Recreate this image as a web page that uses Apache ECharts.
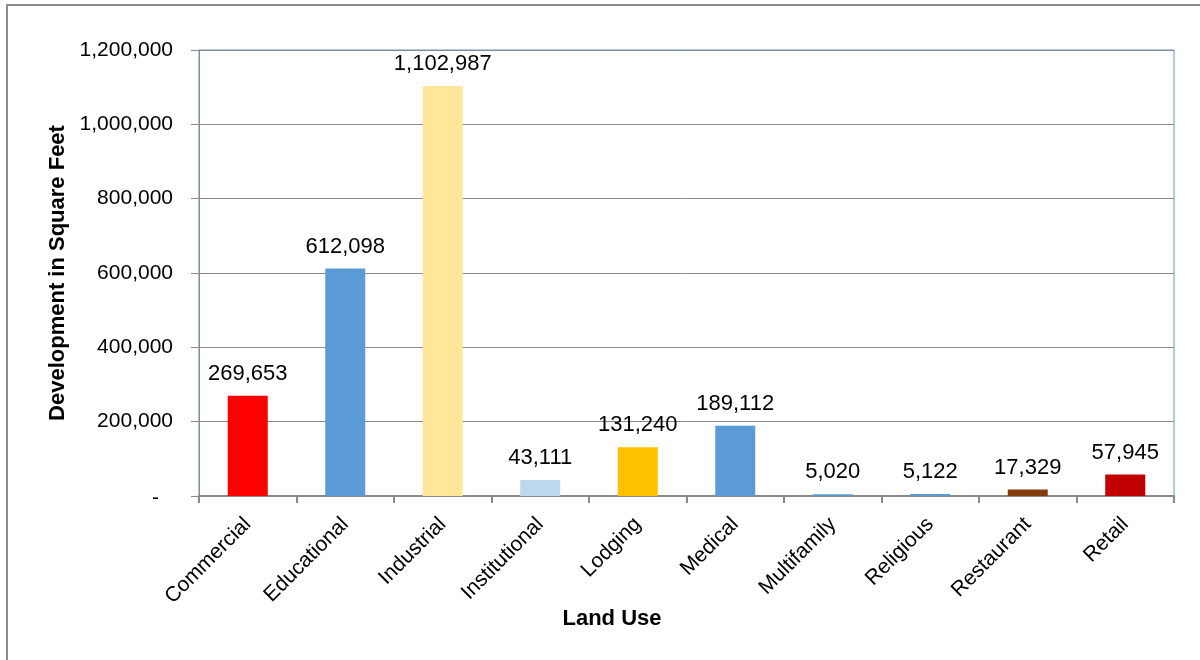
<!DOCTYPE html>
<html>
<head>
<meta charset="utf-8">
<script src="https://cdn.jsdelivr.net/npm/echarts@6/dist/echarts.min.js"></script>
<style>
  html, body { margin: 0; padding: 0; background: #fff; }
  #chart { width: 1200px; height: 660px; }
</style>
</head>
<body>
<div id="chart"></div>
<script>
// Development by land use, in square feet
const categories = ['Commercial', 'Educational', 'Industrial', 'Institutional', 'Lodging',
                    'Medical', 'Multifamily', 'Religious', 'Restaurant', 'Retail'];
const squareFeet = [269653, 612098, 1102987, 43111, 131240, 189112, 5020, 5122, 17329, 57945];
const barColors = ['#FF0000', '#5B9BD5', '#FFE699', '#BDD7EE', '#FFC000',
                   '#5B9BD5', '#5B9BD5', '#5B9BD5', '#843C0C', '#C00000'];
const yTicks = [0, 200000, 400000, 600000, 800000, 1000000, 1200000];

const FONT = '"Liberation Sans", Arial, sans-serif';
const fmt = v => v.toLocaleString('en-US');

const chart = echarts.init(document.getElementById('chart'), null, { renderer: 'canvas' });

chart.setOption({
  backgroundColor: '#fff',
  animation: false,
  graphic: [{
    type: 'rect',
    shape: { x: 7, y: 5, width: 1400, height: 1000 },
    style: { fill: 'none', stroke: '#8C8C8C', lineWidth: 2 },
    silent: true,
    z: -10
  }],
  grid: {
    left: 199, right: 26, top: 50, bottom: 164,
    show: true, borderColor: '#5B9BD5', borderWidth: 1, backgroundColor: 'transparent'
  },
  xAxis: {
    type: 'category',
    data: categories,
    name: 'Land Use',
    nameLocation: 'middle',
    nameGap: 112,
    nameMoveOverlap: false,
    nameTextStyle: { fontFamily: FONT, fontSize: 22, fontWeight: 'bold', color: '#000', padding: [0, 149, 0, 0] },
    axisLine: { lineStyle: { color: '#898989', width: 2 } },
    axisTick: { show: true, alignWithLabel: false, length: 7, lineStyle: { color: '#898989', width: 2 } },
    axisLabel: { rotate: 45, margin: 25, fontFamily: FONT, fontSize: 21, color: '#000' },
    splitLine: { show: false }
  },
  yAxis: {
    type: 'value',
    min: yTicks[0],
    max: yTicks[yTicks.length - 1],
    interval: yTicks[1] - yTicks[0],
    name: 'Development in Square Feet',
    nameLocation: 'middle',
    nameGap: 129,
    nameTextStyle: { fontFamily: FONT, fontSize: 22, fontWeight: 'bold', color: '#000' },
    axisLine: { show: true, lineStyle: { color: '#898989', width: 1 } },
    axisTick: { show: true, length: 8, lineStyle: { color: '#898989', width: 1 } },
    axisLabel: {
      margin: 26, fontFamily: FONT, fontSize: 21, color: '#000',
      formatter: v => v === 0 ? '{z|-}' : fmt(v),
      rich: { z: { fontFamily: FONT, fontSize: 21, color: '#000', padding: [4, 14, 0, 0] } }
    },
    splitLine: { show: true, lineStyle: { color: '#898989', width: 1 } }
  },
  series: [{
    type: 'bar',
    barWidth: 40,
    data: squareFeet.map((v, i) => ({ value: v, itemStyle: { color: barColors[i] } })),
    label: {
      show: true, position: 'top', distance: 11,
      fontFamily: FONT, fontSize: 22, color: '#000',
      formatter: p => fmt(p.value)
    }
  }]
});
</script>
</body>
</html>
